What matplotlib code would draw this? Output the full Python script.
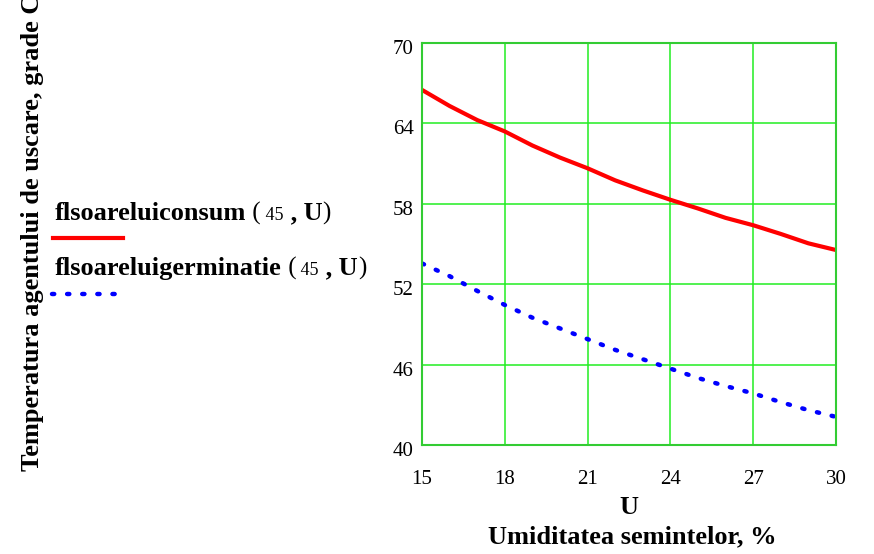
import matplotlib
matplotlib.use("Agg")
import matplotlib.pyplot as plt
import matplotlib.transforms as mtransforms
from matplotlib.lines import Line2D

# Date
umiditate = [15, 16, 17, 18, 19, 20, 21, 22, 23, 24, 25, 26, 27, 28, 29, 30]
t_consum = [66.5, 65.3, 64.25, 63.4, 62.35, 61.45, 60.65, 59.75, 59.0, 58.3,
            57.65, 56.95, 56.4, 55.75, 55.05, 54.55]
t_germinatie = [53.55, 52.6, 51.5, 50.45, 49.5, 48.7, 47.9, 47.1, 46.4, 45.7,
                45.0, 44.4, 43.85, 43.2, 42.6, 42.1]
x_ticks = [15, 18, 21, 24, 27, 30]
y_ticks = [40, 46, 52, 58, 64, 70]

plt.rcParams['font.family'] = ['Liberation Serif', 'DejaVu Serif']

W, H = 874, 554
fig = plt.figure(figsize=(W / 100, H / 100), dpi=100)
ax = fig.add_axes([422 / W, 1 - 445 / H, (836 - 422) / W, (445 - 43) / H])

ax.plot(umiditate, t_consum, color='#ff0000', lw=3, solid_capstyle='butt')
ax.plot(umiditate, t_germinatie, color='#0000ff', lw=3.2,
        dashes=(0.5, 2.9), dash_capstyle='round')

ax.set_xlim(15, 30)
ax.set_ylim(40, 70)
ax.set_xticks(x_ticks)
ax.set_yticks(y_ticks)
ax.tick_params(length=0, labelsize=15, colors='black')
ax.tick_params(axis='x', pad=18)
ax.tick_params(axis='y', pad=6)
# etichetele Y stau putin sub liniile de grila
offset = mtransforms.ScaledTranslation(0, -4 / 100, fig.dpi_scale_trans)
for lbl in ax.get_yticklabels():
    lbl.set_transform(lbl.get_transform() + offset)
ax.grid(True, color='#22ee22', lw=1.1)
for s in ax.spines.values():
    s.set_color('#33cc33')
    s.set_linewidth(1.5)

# etichete axa X
fig.text(629 / W, 1 - 507 / H, 'U', ha='center', va='center',
         fontsize=19, fontweight='bold')
fig.text(632 / W, 1 - 537 / H, 'Umiditatea semintelor, %', ha='center',
         va='center', fontsize=19, fontweight='bold')

# eticheta axa Y (taiata sus, ca in original)
fig.text(33 / W, 1 - 471 / H, 'Temperatura agentului de uscare, grade C',
         rotation=90, ha='center', va='bottom', fontsize=19, fontweight='bold')

# legenda in stanga, construita din bucati de text
renderer = fig.canvas.get_renderer()


def legend_text(x, y, name):
    parts = [(name, 'bold', 19), (' (', 'normal', 18), (' 45', 'normal', 13),
             (' ,', 'bold', 19), (' U', 'bold', 19), (')', 'normal', 18)]
    cx = x
    for txt, w, fs in parts:
        t = fig.text(cx / W, 1 - y / H, txt, fontweight=w, fontsize=fs,
                     ha='left', va='baseline')
        bb = t.get_window_extent(renderer)
        cx = bb.x1


legend_text(55, 220, 'flsoareluiconsum')
legend_text(55, 275, 'flsoareluigerminatie')

fig.add_artist(Line2D([53 / W, 123 / W], [1 - 238 / H, 1 - 238 / H],
                      color='#ff0000', lw=3, transform=fig.transFigure))
fig.add_artist(Line2D([52 / W, 118 / W], [1 - 294 / H, 1 - 294 / H],
                      color='#0000ff', lw=3.2, dashes=(0.5, 2.9),
                      dash_capstyle='round', transform=fig.transFigure))

fig.savefig('out.png', dpi=100)
